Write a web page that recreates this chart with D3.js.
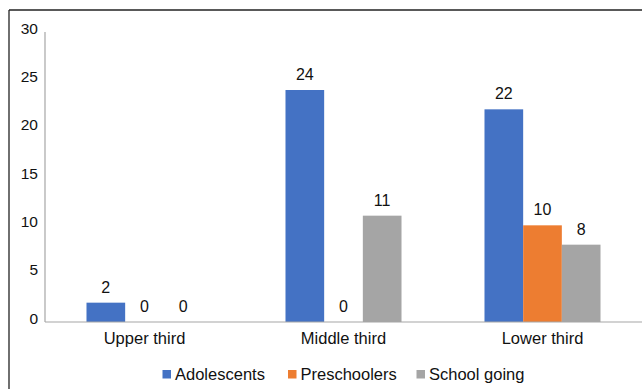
<!DOCTYPE html>
<html>
<head>
<meta charset="utf-8">
<script src="https://cdn.jsdelivr.net/npm/d3@7"></script>
<style>
  html, body { margin: 0; padding: 0; background: #fff; }
  svg { display: block; font-family: "Liberation Sans", Arial, sans-serif; }
</style>
</head>
<body>
<svg id="chart" width="642" height="389"></svg>
<script>
// Counts per level, grouped by third
const categories = ["Upper third", "Middle third", "Lower third"];
const seriesNames = ["Adolescents", "Preschoolers", "School going"];
const adolescents = [2, 24, 22];
const preschoolers = [0, 0, 10];
const schoolGoing = [0, 11, 8];
const yTicks = [0, 5, 10, 15, 20, 25, 30];

const seriesValues = [adolescents, preschoolers, schoolGoing];
const colors = ["#4472c4", "#ed7d31", "#a5a5a5"];

const svg = d3.select("#chart");
const W = 642, H = 389;
const plot = { left: 45, right: 642, top: 32, bottom: 322 };

// Frame lines along the top and left edges
svg.append("line").attr("x1", 9).attr("x2", W).attr("y1", 10).attr("y2", 10)
  .attr("stroke", "#222").attr("stroke-width", 1.3);
svg.append("line").attr("x1", 9).attr("x2", 9).attr("y1", 10).attr("y2", H)
  .attr("stroke", "#222").attr("stroke-width", 1.3);

const x = d3.scaleBand().domain(categories)
  .range([plot.left, plot.right])
  .paddingInner(0.417).paddingOuter(0.2085);
const xs = d3.scaleBand().domain(seriesNames).range([0, x.bandwidth()]).padding(0);
const y = d3.scaleLinear().domain([0, 30]).range([plot.bottom, plot.top]);

// Y tick labels (no tick marks)
svg.append("g").selectAll("text").data(yTicks).join("text")
  .attr("x", 38).attr("y", d => y(d) + 1.5)
  .attr("text-anchor", "end")
  .attr("font-size", 15.5).attr("fill", "#111")
  .text(d => d);

// Bars
const rows = categories.map((c, i) => ({
  cat: c,
  vals: seriesNames.map((s, j) => ({ s, j, v: seriesValues[j][i] }))
}));
const groups = svg.append("g").selectAll("g").data(rows).join("g")
  .attr("transform", d => `translate(${x(d.cat)},0)`);
groups.selectAll("rect").data(d => d.vals).join("rect")
  .attr("x", d => xs(d.s))
  .attr("y", d => y(d.v))
  .attr("width", xs.bandwidth())
  .attr("height", d => y(0) - y(d.v))
  .attr("fill", d => colors[d.j]);
groups.selectAll("text").data(d => d.vals).join("text")
  .attr("x", d => xs(d.s) + xs.bandwidth() / 2)
  .attr("y", d => y(d.v) - 10)
  .attr("text-anchor", "middle")
  .attr("font-size", 16).attr("fill", "#111")
  .text(d => d.v);

// Axis lines
svg.append("line").attr("x1", plot.left).attr("x2", plot.left)
  .attr("y1", plot.top).attr("y2", plot.bottom)
  .attr("stroke", "#a6a6a6").attr("stroke-width", 1.2);
svg.append("line").attr("x1", plot.left).attr("x2", plot.right)
  .attr("y1", plot.bottom).attr("y2", plot.bottom)
  .attr("stroke", "#a6a6a6").attr("stroke-width", 1.2);

// Category labels
svg.append("g").selectAll("text").data(categories).join("text")
  .attr("x", d => x(d) + x.bandwidth() / 2)
  .attr("y", 344)
  .attr("text-anchor", "middle")
  .attr("font-size", 16.5).attr("fill", "#111")
  .text(d => d);

// Legend
const legendX = [162.5, 288, 416.5];
const legend = svg.append("g").selectAll("g").data(seriesNames).join("g")
  .attr("transform", (d, i) => `translate(${legendX[i]},370)`);
legend.append("rect").attr("width", 8.5).attr("height", 8.5).attr("fill", (d, i) => colors[i]);
legend.append("text").attr("x", 12.5).attr("y", 10)
  .attr("font-size", 16.5).attr("fill", "#111")
  .text(d => d);
</script>
</body>
</html>
